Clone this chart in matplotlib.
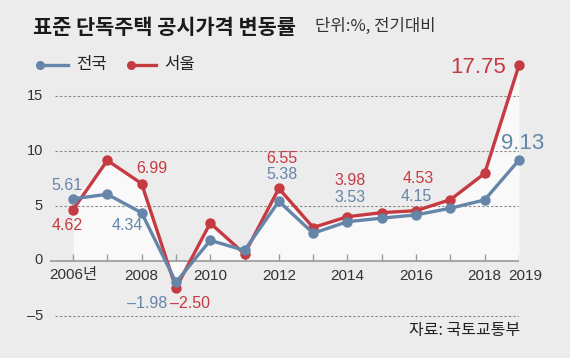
import matplotlib
matplotlib.use("Agg")
import matplotlib.pyplot as plt
from matplotlib import font_manager as fm
import numpy as np

# ---- data ----
years = [2006, 2007, 2008, 2009, 2010, 2011, 2012, 2013, 2014, 2015, 2016, 2017, 2018, 2019]
national = [5.61, 6.02, 4.34, -1.98, 1.83, 0.92, 5.38, 2.48, 3.53, 3.85, 4.15, 4.75, 5.51, 9.13]
seoul = [4.62, 9.10, 6.99, -2.50, 3.40, 0.60, 6.55, 3.00, 3.98, 4.35, 4.53, 5.53, 7.92, 17.75]
xtick_years = [2006, 2008, 2010, 2012, 2014, 2016, 2018, 2019]
xtick_labels = ["2006년", "2008", "2010", "2012", "2014", "2016", "2018", "2019"]
yticks = [-5, 0, 5, 10, 15]
title = "표준 단독주택 공시가격 변동률"
subtitle = "단위:%, 전기대비"
legend_labels = ["전국", "서울"]
source = "자료: 국토교통부"
national_labels = {2006: "5.61", 2008: "4.34", 2009: "-1.98", 2012: "5.38", 2014: "3.53", 2016: "4.15", 2019: "9.13"}
seoul_labels = {2006: "4.62", 2008: "6.99", 2009: "-2.50", 2012: "6.55", 2014: "3.98", 2016: "4.53", 2019: "17.75"}

BLUE = "#6585a9"
RED = "#c63a42"
BG = "#ececec"
FILL = "#f9f9f9"

avail = {f.name for f in fm.fontManager.ttflist}
KR = "Noto Sans CJK KR"
NUMF = "Liberation Sans Narrow" if "Liberation Sans Narrow" in avail else "Liberation Sans"
narrow = NUMF == "Liberation Sans Narrow"

plt.rcParams['font.family'] = [KR, 'DejaVu Sans']

W, H = 570, 358
fig = plt.figure(figsize=(W / 100, H / 100), dpi=100, facecolor=BG)
ax_l, ax_r, ax_t, ax_b = 50, 519, 55, 325
ax = fig.add_axes([ax_l / W, (H - ax_b) / H, (ax_r - ax_l) / W, (ax_b - ax_t) / H])
ax.set_facecolor(BG)
x0 = 2006 - 23 / (446 / 13)
ax.set_xlim(x0, 2019)
y_per = 11.0
zero_px = 260.5
ax.set_ylim(-(ax_b - zero_px) / y_per, (zero_px - ax_t) / y_per)
for s in ax.spines.values():
    s.set_visible(False)
ax.set_xticks([])
ax.set_yticks([])

# fill under upper envelope
upper = np.maximum(np.array(national), np.array(seoul))
ax.fill_between(years, upper, 0, color=FILL, lw=0, zorder=1)

# grid
frac0 = 5 / (ax_r - ax_l)
for yv in yticks:
    if yv == 0:
        continue
    ax.axhline(yv, xmin=frac0, xmax=1, color="#8a8a8a", lw=0.8, ls=(0, (2.2, 1.8)), zorder=2)
ax.axhline(0, color="#9a9a9a", lw=1.2, zorder=2)
ax.vlines(years, 0, 7 / y_per, color="#9a9a9a", lw=1.0, zorder=2)

# lines
ax.plot(years, seoul, color=RED, lw=2.4, marker="o", ms=6.5, zorder=4, clip_on=False,
        solid_joinstyle="round")
ax.plot(years, national, color=BLUE, lw=2.4, marker="o", ms=6.5, zorder=5, clip_on=False,
        solid_joinstyle="round")

fs_small = 12.5 if narrow else 11.5
fs_big = 18 if narrow else 16
fs_tick = 12 if narrow else 11
fs_ytick = 11.5 if narrow else 10.5

# tick labels
for yv in yticks:
    ax.annotate(str(yv).replace("-", "–"), (x0, yv), xytext=(-7, 0), textcoords="offset pixels",
                ha="right", va="center", fontsize=fs_ytick, color="#333333", family=[NUMF, KR])
for xv, lab in zip(xtick_years, xtick_labels):
    dx = 6 if xv == 2019 else 0
    ax.annotate(lab, (xv, 0), xytext=(dx, -15), textcoords="offset pixels",
                ha="center", va="center", fontsize=fs_tick, color="#333333",
                family=[NUMF, KR])

# value labels: offsets in pixels (dx, dy up-positive, big?)
nat_off = {2006: (-6, 13, 0), 2008: (-14, -13, 0), 2009: (-29, -21, 0), 2012: (3, 27, 0),
           2014: (3, 24, 0), 2016: (0, 18, 0), 2019: (4, 17, 1)}
seo_off = {2006: (-6, -16, 0), 2008: (10, 15, 0), 2009: (14, -15, 0), 2012: (3, 30, 0),
           2014: (3, 36, 0), 2016: (2, 32, 0), 2019: (-41, -2, 1)}
for lab_map, off, vals, col in [(national_labels, nat_off, national, BLUE),
                                (seoul_labels, seo_off, seoul, RED)]:
    for yr, txt in lab_map.items():
        i = years.index(yr)
        dx, dy, big = off[yr]
        ax.annotate(txt.replace("-", "–"), (years[i], vals[i]), xytext=(dx, dy),
                    textcoords="offset pixels", ha="center", va="center",
                    fontsize=fs_big if big else fs_small, color=col, family=[NUMF, KR], zorder=6)

# title & subtitle
fig.text(33 / W, 1 - 27 / H, title, fontsize=15, fontweight="bold", color="#1a1a1a",
         ha="left", va="center")
fig.text(315 / W, 1 - 26 / H, subtitle, fontsize=12, color="#333333", ha="left", va="center")

# legend
for (xs, xe, tx), col, lab in zip([(40, 68, 76), (131, 156, 164)], [BLUE, RED], legend_labels):
    fig.add_artist(plt.Line2D([xs / W, xe / W], [1 - 65 / H] * 2, color=col, lw=2.4,
                              transform=fig.transFigure))
    fig.add_artist(plt.Line2D([xs / W], [1 - 65 / H], color=col, marker="o", ms=5.5,
                              transform=fig.transFigure))
    fig.text(tx / W, 1 - 65 / H, lab, fontsize=12, color="#222222", ha="left", va="center")

# source
fig.text(520 / W, 1 - 330 / H, source, fontsize=11.5, color="#222222", ha="right", va="center")

fig.savefig("out.png", dpi=100, facecolor=BG)
